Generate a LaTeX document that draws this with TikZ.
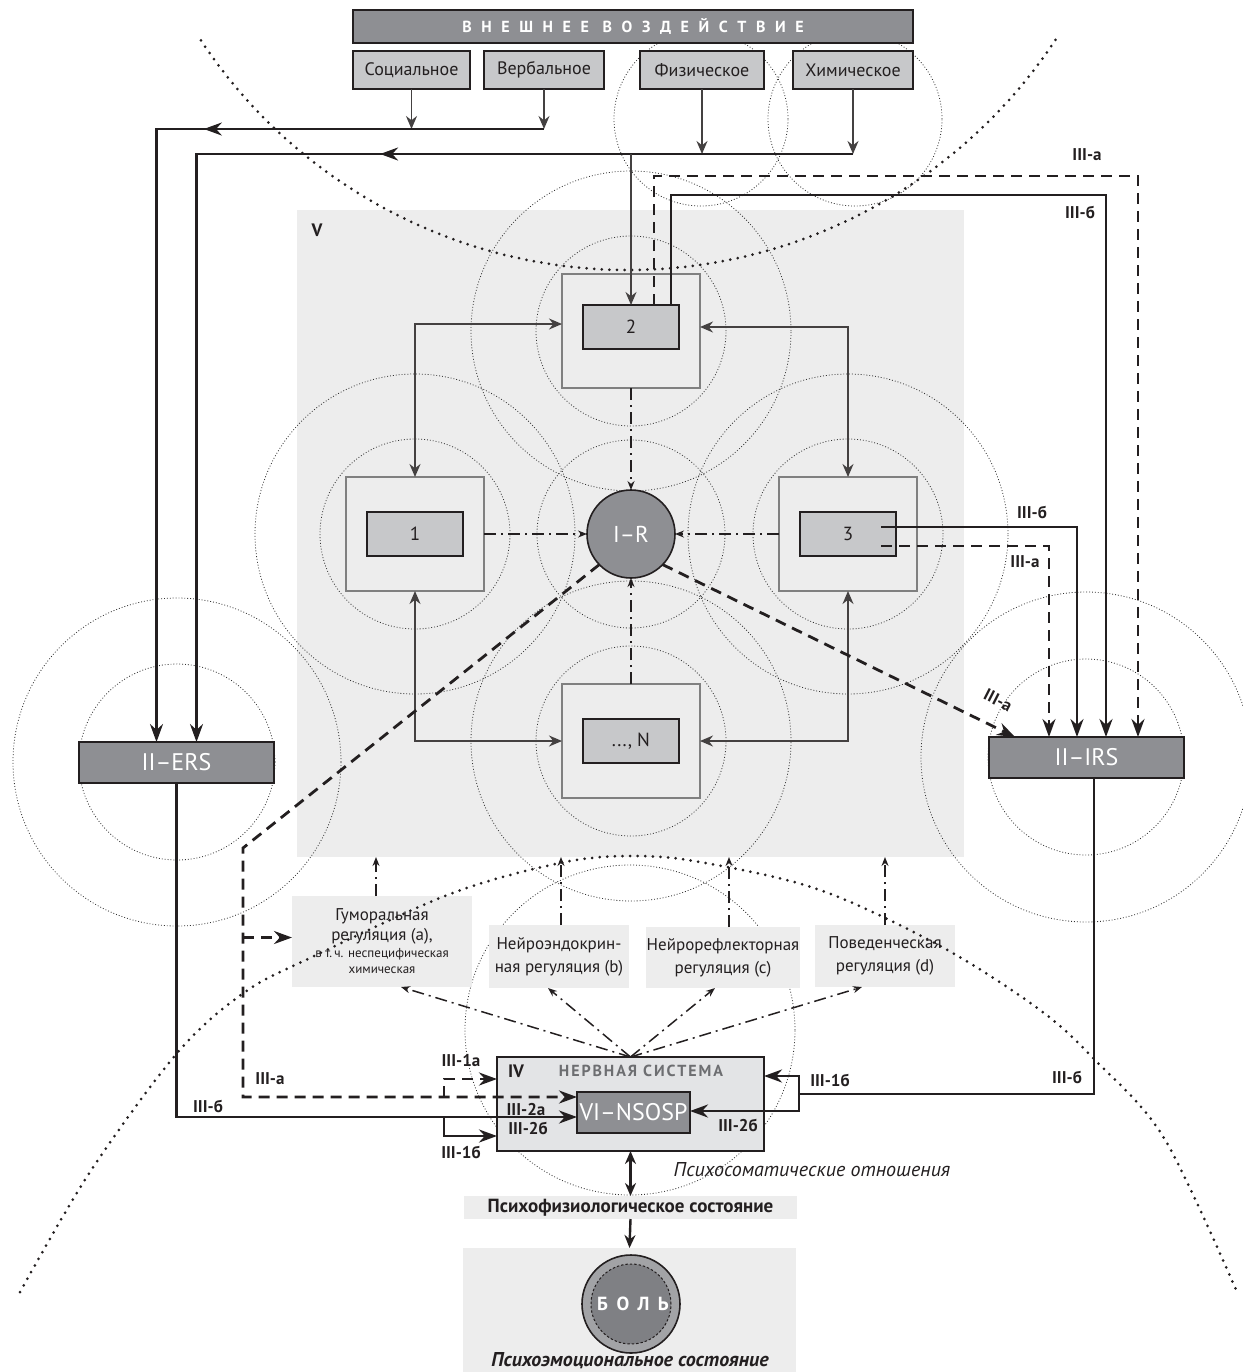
\documentclass[tikz,border=0pt]{standalone}
\usepackage{fontspec}
\setmainfont{PT Sans}
\usetikzlibrary{arrows.meta,decorations.markings}
\newcommand{\fsz}[2]{\fontsize{#1}{#2}\selectfont}
\definecolor{bgv}{HTML}{EDEDED}
\definecolor{dkbox}{HTML}{8E8F93}
\definecolor{ltbox}{HTML}{C7C8CA}
\definecolor{obord}{HTML}{808080}
\definecolor{ink}{HTML}{231F20}
\definecolor{nsfill}{HTML}{E3E4E6}
\definecolor{ringc}{HTML}{A2A3A6}
\definecolor{painc}{HTML}{7F8084}
\definecolor{nstext}{HTML}{6D6E71}
\definecolor{circc}{HTML}{333333}
\tikzset{
  bigtip/.tip={Stealth[length=9pt,width=6.5pt]},
  midtip/.tip={Stealth[length=6.5pt,width=5.5pt]},
  smalltip/.tip={Stealth[length=4.5pt,width=3.5pt]},
  base/.style={inner sep=0pt, outer sep=0pt, text=ink},
  darkbox/.style={base, draw=ink, line width=0.8pt, fill=dkbox, text=white, font=\fsz{12}{14}},
  lightbox/.style={base, draw=ink, line width=0.6pt, fill=ltbox, font=\fsz{9}{11}, minimum height=19pt},
  outerbox/.style={base, draw=obord, line width=1.1pt, fill=bgv, minimum width=69pt, minimum height=57pt},
  innerbox/.style={base, draw=ink, line width=0.6pt, fill=ltbox, font=\fsz{9.5}{11}, minimum width=48pt, minimum height=22pt},
  regbox/.style={base, fill=bgv, align=center, font=\fsz{8.5}{11.5}},
  lbl/.style={base, font=\bfseries\fsz{8.5}{10}},
  circ/.style={draw=circc, line width=0.4pt, dash pattern=on 0.45pt off 1pt},
  bigdots/.style={draw=ink, line width=1.5pt, line cap=round, dash pattern=on 0pt off 3.8pt},
  thinlink/.style={draw=ink!85, line width=0.7pt},
  heavy/.style={draw=ink, line width=1.45pt},
  heavydash/.style={draw=ink, line width=1.4pt, dash pattern=on 5.5pt off 3.5pt},
  dashdot/.style={draw=ink, line width=0.75pt, dash pattern=on 6pt off 2.5pt on 1pt off 2.5pt},
  midarrow/.style={postaction={decorate, decoration={markings, mark=at position #1 with {\arrow{bigtip}}}}},
}
\begin{document}
\begin{tikzpicture}[x=0.5pt,y=-0.5pt]
\useasboundingbox (0,0) rectangle (1243,1372);
% background of block V
\node[base, fill=bgv, minimum width=333.5pt, minimum height=323.5pt] (Vbg) at (630.5,533.5) {};
% thin dotted circles
\foreach \cx/\cy/\r in {701/119/87, 855/119/87, 631/331/160, 631/331/95, 415/534/160, 415/534/95, 848/534/160, 848/534/95, 631/534/94, 631/741/160, 631/741/95, 177/762/164, 177/762/98, 1086/757/165, 1086/757/98, 630/1030/165}
  \draw[circ] (\cx,\cy) circle[radius=\r*0.5pt];

% top boxes
\node[base, draw=ink, line width=0.8pt, fill=dkbox, minimum width=280pt, minimum height=16.5pt, text=white, font=\bfseries\fsz{8}{9}\addfontfeature{LetterSpace=60}] (top) at (633,26.5) {ВНЕШНЕЕ ВОЗДЕЙСТВИЕ};
\node[lightbox, minimum width=58.5pt] (soc) at (411.5,70) {Социальное};
\node[lightbox, minimum width=60pt] (verb) at (544,70) {Вербальное};
\node[lightbox, minimum width=62pt] (fiz) at (702,70) {Физическое};
\node[lightbox, minimum width=60pt] (chem) at (853,70) {Химическое};

% block V
\node[base, font=\bfseries\fsz{9}{10}] (vlab) at (317,230) {V};
\node[outerbox] (b2o) at (631,331) {};
\node[outerbox] (b1o) at (415,534) {};
\node[outerbox] (b3o) at (848,534) {};
\node[outerbox] (bNo) at (631,741) {};
\node[innerbox] (b2) at (631,327) {2};
\node[innerbox] (b1) at (415,534) {1};
\node[innerbox] (b3) at (848,534) {3};
\node[innerbox] (bN) at (631,741) {..., N};
\node[base, circle, draw=ink, line width=0.8pt, fill=dkbox, minimum size=44pt, text=white, font=\fsz{11.5}{12}] (IR) at (631,534) {I–R};

% II boxes
\node[darkbox, minimum width=97.5pt, minimum height=20.5pt] (ERS) at (176.5,762.5) {II–ERS};
\node[darkbox, minimum width=97.5pt, minimum height=20.5pt] (IRS) at (1086.5,757.5) {II–IRS};

% regulation boxes
\node[regbox, minimum width=90pt, minimum height=45.5pt, font=\fsz{8.5}{10}] (hum) at (382,941.5) {Гуморальная\\регуляция (a),\\[-1.5pt]{\fsz{6.5}{8}в т.\,ч. неспецифическая}\\[-2pt]{\fsz{6.5}{8}химическая}};
\node[regbox, minimum width=70pt, minimum height=31.5pt] (ne) at (559,956.5) {Нейроэндокрин-\\ная регуляция (b)};
\node[regbox, minimum width=77pt, minimum height=30.5pt] (nr) at (723,957.5) {Нейрорефлекторная\\регуляция (c)};
\node[regbox, minimum width=70pt, minimum height=31pt] (bh) at (885,956) {Поведенческая\\регуляция (d)};

% nervous system
\node[base, draw=ink, line width=0.8pt, fill=nsfill, minimum width=133.5pt, minimum height=47pt] (NS) at (630.5,1104) {};
\node[base, font=\bfseries\fsz{9}{10}] (ivlab) at (516,1071) {IV};
\node[base, font=\bfseries\fsz{8}{9}\addfontfeature{LetterSpace=12}, text=nstext] (nslab) at (641,1071) {НЕРВНАЯ СИСТЕМА};
\node[darkbox, minimum width=56.5pt, minimum height=20.5pt] (NSOSP) at (633.5,1112.5) {VI–NSOSP};

% bottom
\node[base, fill=bgv, minimum width=166.5pt, minimum height=11.5pt, font=\bfseries\fsz{9.5}{11}] (pf) at (630.5,1207.5) {Психофизиологическое состояние};
\node[base, fill=bgv, minimum width=166.5pt, minimum height=62pt] (bot) at (629.5,1310) {};
\node[base, circle, draw=ink, line width=0.8pt, fill=ringc, minimum size=49pt] (pain) at (631,1304) {};
\draw[draw=ink, line width=0.5pt, dash pattern=on 1.2pt off 1pt, fill=painc] (pain.center) circle[radius=20pt];
\node[base, text=white, font=\bfseries\fsz{9.5}{11}\addfontfeature{LetterSpace=45}] (paintxt) at (633,1304) {БОЛЬ};
\node[base, font=\bfseries\itshape\fsz{10}{12}] (pelbl) at (630,1361) {Психоэмоциональное состояние};
\node[base, font=\itshape\fsz{10}{12}] (pslbl) at (812,1170) {Психосоматические отношения};

% big dotted arcs
\draw[bigdots] plot[domain=33.4:146.6, samples=160] ({628+512*cos(\x)},{-242+512*sin(\x)});
\draw[bigdots] plot[smooth, tension=0.55] coordinates {(20,1292) (90,1172) (178,1052) (245,992) (310,958) (450,894) (560,863) (630,856) (700,862) (820,890) (942,947) (1040,1010) (1095,1060) (1164,1138) (1237,1292)};

% external influences
\coordinate (L1) at (156,129);
\coordinate (L2) at (196,154);
\draw[thinlink,-midtip] (soc.south) -- (soc.south |- L1);
\draw[thinlink,-midtip] (verb.south) -- (verb.south |- L1);
\draw[thinlink,-midtip] (fiz.south) -- (fiz.south |- L2);
\draw[thinlink,-midtip] (chem.south) -- (chem.south |- L2);
\draw[heavy,line width=1.3pt,-bigtip,midarrow=0.34] (verb.south |- L1) -| ([xshift=-10pt]ERS.north);
\draw[heavy,line width=1.3pt,-bigtip,midarrow=0.38] (chem.south |- L2) -| ([xshift=10pt]ERS.north);
\draw[thinlink,-midtip] (b2.north |- L2) -- (b2.north);

% III from box 2
\coordinate (tA) at (1138,176);
\coordinate (tB) at (1106,195);
\draw[heavydash,-bigtip] ([xshift=11.5pt]b2.north) |- (tA) -- ([xshift=25.75pt]IRS.north);
\draw[heavy,-bigtip] ([xshift=20pt]b2.north) |- (tB) -- ([xshift=9.75pt]IRS.north);
\node[lbl] at (1087,155) {III-а};
\node[lbl] at (1080,212) {III-б};

% III from box 3
\draw[heavy,line width=1.2pt,-bigtip] ([xshift=16.5pt,yshift=3.5pt]b3.center) -| ([xshift=-4.75pt]IRS.north);
\draw[heavydash,line width=1.2pt,-bigtip] ([xshift=16.5pt,yshift=-6pt]b3.center) -| ([xshift=-18.75pt]IRS.north);
\node[lbl] at (1032,512) {III-б};
\node[lbl] at (1025,562) {III-а};

% links between boxes
\draw[thinlink,midtip-midtip] (b1o.north) |- ([yshift=3.5pt]b2o.west);
\draw[thinlink,midtip-midtip] (b3o.north) |- ([yshift=2pt]b2o.east);
\draw[thinlink,midtip-midtip] (b1o.south) |- (bNo.west);
\draw[thinlink,midtip-midtip] (b3o.south) |- (bNo.east);
\draw[dashdot,-smalltip] (b1o.east) -- (IR.west);
\draw[dashdot,-smalltip] (b3o.west) -- (IR.east);
\draw[dashdot,-smalltip] (b2o.south) -- (IR.north);
\draw[dashdot,-smalltip] (bNo.north) -- (IR.south);

% IR dashed outputs
\draw[heavydash,-bigtip] (IR.-44) -- ([xshift=13pt]IRS.north west);
\node[lbl, rotate=-27] at (998,700) {III-а};
\coordinate (dA) at (243,848);
\draw[heavydash,-bigtip] (IR.-136) -- (dA) |- ([yshift=7.75pt]NSOSP.west);
\coordinate (hw) at ([yshift=2pt]hum.west);
\draw[heavydash,-bigtip] (dA |- hw) -- (hw);
\coordinate (bA) at (444,1097);
\draw[heavydash,-bigtip] (bA) |- ([yshift=12.5pt]NS.west);

% ERS output
\draw[heavy,-bigtip] (ERS.south) |- ([yshift=-2.25pt]NSOSP.west);
\coordinate (bB) at (444,1117);
\draw[heavy,-bigtip] (bB) |- ([yshift=-16pt]NS.west);

% IRS output
\coordinate (rA) at (799,1094);
\draw[heavy] ([xshift=3.75pt]IRS.south) |- (rA);
\draw[heavy,-bigtip] (rA) |- ([yshift=14pt]NS.east);
\draw[heavy,-bigtip] (rA) |- ([yshift=0.75pt]NSOSP.east);

% labels near nervous system
\node[lbl] at (461,1060) {III-1а};
\node[lbl] at (270,1079) {III-а};
\node[lbl] at (208,1106) {III-б};
\node[lbl] at (526,1109) {III-2а};
\node[lbl] at (528,1128) {III-2б};
\node[lbl] at (461,1152) {III-1б};
\node[lbl] at (830,1080) {III-1б};
\node[lbl] at (1067,1077) {III-б};
\node[lbl] at (738,1125) {III-2б};

% regulation arrows
\coordinate (u1) at ([xshift=-3pt]hum.north);
\coordinate (u2) at ([xshift=1pt]ne.north);
\coordinate (u3) at ([xshift=3pt]nr.north);
\coordinate (u4) at (bh.north);
\foreach \u in {u1,u2,u3,u4}
  \draw[dashdot,-smalltip] (\u) -- (\u |- Vbg.south);
\draw[dashdot,-smalltip] (NS.north) -- ([xshift=9.5pt]hum.south);
\draw[dashdot,-smalltip] (NS.north) -- ([xshift=-5.5pt]ne.south);
\draw[dashdot,-smalltip] (NS.north) -- ([xshift=-4pt]nr.south);
\draw[dashdot,-smalltip] (NS.north) -- ([xshift=-11.5pt]bh.south);

% states
\draw[draw=ink, line width=1.2pt, midtip-midtip] (NS.south) -- (pf.north);
\draw[draw=ink, line width=1.2pt, -midtip] (pf.south) -- (bot.north);
\end{tikzpicture}
\end{document}
